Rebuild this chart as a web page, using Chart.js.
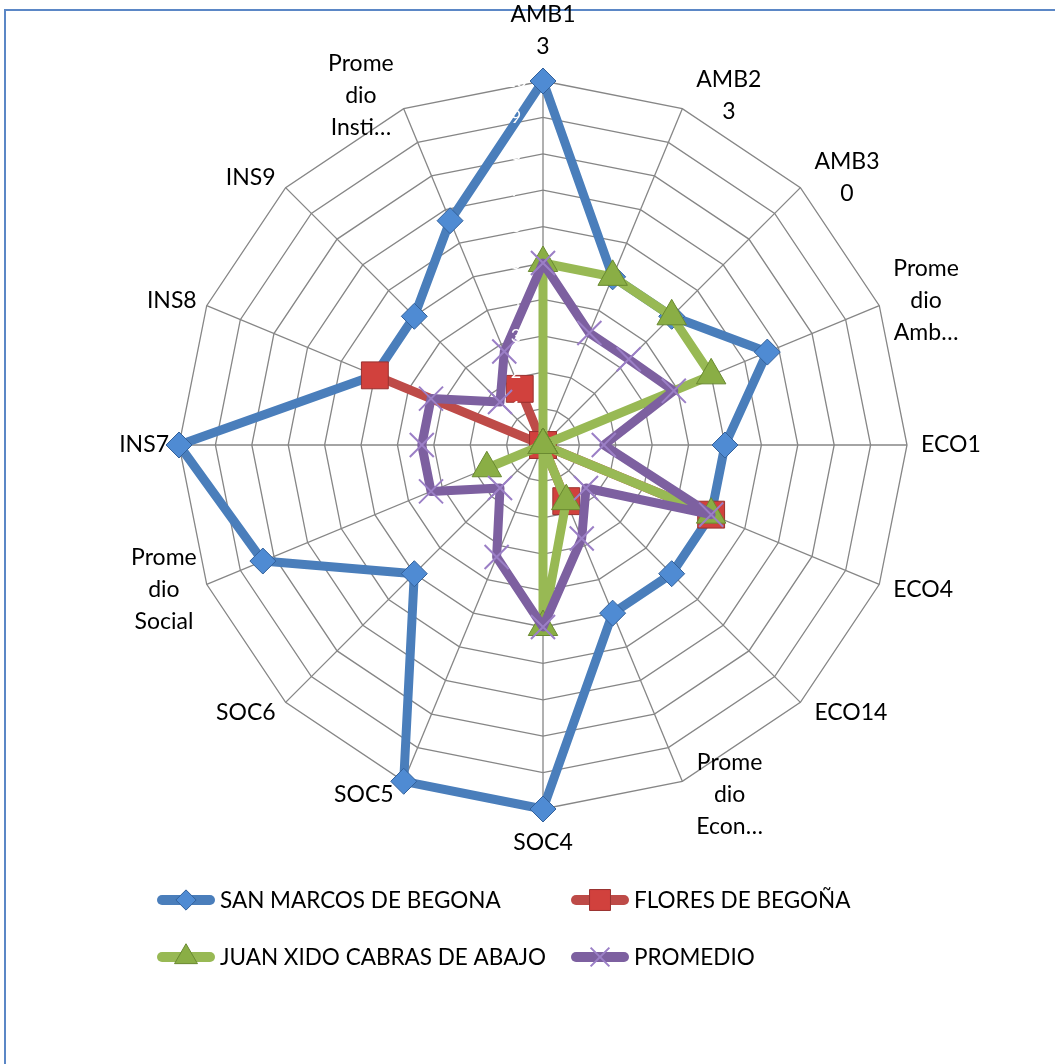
<!DOCTYPE html>
<html>
<head>
<meta charset="utf-8">
<script src="https://cdn.jsdelivr.net/npm/chart.js@4.4.1/dist/chart.umd.min.js"></script>
<style>
    html, body { margin: 0; padding: 0; background: #fff; }
    #wrap { position: relative; width: 1055px; height: 1064px; overflow: hidden; }
    #frame { position: absolute; left: 4px; top: 9px; right: -4px; bottom: -4px;
             border-top: 2px solid #5b87c6; border-left: 2px solid #5b87c6; }
    canvas { position: absolute; left: 0; top: 0; }
</style>
</head>
<body>
<div id="wrap">
    <div id="frame"></div>
    <canvas id="myCanvas" width="1055" height="1064"></canvas>
</div>
<script>
// categories (wrapped the way the original labels are)
var categories = [
    ["AMB1", "3"], ["AMB2", "3"], ["AMB3", "0"], ["Prome", "dio", "Amb…"],
    ["ECO1"], ["ECO4"], ["ECO14"], ["Prome", "dio", "Econ…"],
    ["SOC4"], ["SOC5"], ["SOC6"], ["Prome", "dio", "Social"],
    ["INS7"], ["INS8"], ["INS9"], ["Prome", "dio", "Insti…"]
];
var series_names = ["SAN MARCOS DE BEGONA", "FLORES DE BEGOÑA", "JUAN XIDO CABRAS DE ABAJO", "PROMEDIO"];

var san_marcos = [10, 5, 5, 6.67, 5, 5, 5, 5, 10, 10, 5, 8.33, 10, 5, 5, 6.67];
var flores     = [0, 0, 0, 0, 0, 5, 0, 1.67, 0, 0, 0, 0, 0, 5, 0, 1.67];
var juan_xido  = [5, 5, 5, 5, 0, 5, 0, 1.67, 5, 0, 0, 1.67, 0, 0, 0, 0];
var promedio   = [5, 3.33, 3.33, 3.89, 1.67, 5, 1.67, 2.78, 5, 3.33, 1.67, 3.33, 3.33, 3.33, 1.67, 2.78];

var scale_min = 0;
var scale_max = 10;
var scale_step = 1;

var chartColors = {
    blue: '#4a7ebb',
    red: '#be4b48',
    green: '#98b954',
    purple: '#7d60a0'
};

var labelFont = '23px Lato';

// draws the category names around the web, Excel style
var categoryLabels = {
    id: 'categoryLabels',
    afterDatasetsDraw: function (chart) {
        var scale = chart.scales.r;
        var ctx = chart.ctx;
        var lineH = 32;
        ctx.save();
        ctx.font = labelFont;
        ctx.fillStyle = '#000';
        ctx.textAlign = 'center';
        ctx.textBaseline = 'middle';
        for (var i = 0; i < categories.length; i++) {
            var lines = categories[i];
            var p = scale.getPointPosition(i, scale.drawingArea);
            var ang = scale.getIndexAngle(i);
            var s = Math.sin(ang), c = Math.cos(ang);
            var w = 0;
            lines.forEach(function (t) { w = Math.max(w, ctx.measureText(t).width); });
            var h = lines.length * lineH;
            var cx, cy;
            if (Math.abs(s) < 0.01) {
                cx = p.x;
                cy = p.y - c * (h / 2 + 18);
            } else {
                cx = p.x + Math.sign(s) * (w / 2 + (s > 0 ? 14 : 10));
                cy = p.y - c * 14;
            }
            lines.forEach(function (t, k) {
                ctx.fillText(t, cx, cy - h / 2 + lineH * (k + 0.5));
            });
        }
        ctx.restore();
    }
};

// two column legend with a line + marker sample
var sampleLegend = {
    id: 'sampleLegend',
    afterDraw: function (chart) {
        var ctx = chart.ctx;
        var cols = [158, 572];
        var rows = [900, 957];
        ctx.save();
        ctx.font = '22.5px Lato';
        ctx.textBaseline = 'middle';
        ctx.textAlign = 'left';
        chart.data.datasets.forEach(function (ds, i) {
            var x = cols[i % 2];
            var y = rows[Math.floor(i / 2)];
            ctx.strokeStyle = ds.borderColor;
            ctx.lineWidth = 10;
            ctx.lineCap = 'round';
            ctx.beginPath();
            ctx.moveTo(x + 4, y);
            ctx.lineTo(x + 52, y);
            ctx.stroke();
            ctx.fillStyle = ds.pointBackgroundColor;
            ctx.strokeStyle = ds.pointBorderColor;
            ctx.lineWidth = ds.pointBorderWidth;
            ctx.lineCap = 'butt';
            Chart.helpers.drawPoint(ctx, {
                pointStyle: ds.pointStyle,
                radius: ds.pointRadius * 0.78,
                rotation: 0,
                borderWidth: ds.pointBorderWidth
            }, x + 28, y);
            ctx.fillStyle = '#000';
            ctx.fillText(ds.label, x + 62, y + 1);
        });
        ctx.restore();
    }
};

var graph_data = [
    {
        label: series_names[0],
        data: san_marcos,
        borderColor: chartColors.blue,
        borderWidth: 9,
        borderJoinStyle: 'round',
        fill: false,
        pointStyle: 'rectRot',
        pointRadius: 13,
        pointBackgroundColor: '#4f8bd3',
        pointBorderColor: '#33619b',
        pointBorderWidth: 1,
        order: 4
    },
    {
        label: series_names[1],
        data: flores,
        borderColor: chartColors.red,
        borderWidth: 9,
        borderJoinStyle: 'round',
        fill: false,
        pointStyle: 'rect',
        pointRadius: 19,
        pointBackgroundColor: '#d1413d',
        pointBorderColor: '#993230',
        pointBorderWidth: 1,
        order: 3
    },
    {
        label: series_names[2],
        data: juan_xido,
        borderColor: chartColors.green,
        borderWidth: 9,
        borderJoinStyle: 'round',
        fill: false,
        pointStyle: 'triangle',
        pointRadius: 17,
        pointBackgroundColor: '#8aae45',
        pointBorderColor: '#6a8a31',
        pointBorderWidth: 1,
        order: 2
    },
    {
        label: series_names[3],
        data: promedio,
        borderColor: chartColors.purple,
        borderWidth: 9,
        borderJoinStyle: 'round',
        fill: false,
        pointStyle: 'crossRot',
        pointRadius: 17,
        pointBackgroundColor: '#9b7fc6',
        pointBorderColor: '#9b7fc6',
        pointBorderWidth: 2,
        order: 1
    }
];

var myChart = new Chart(document.getElementById('myCanvas'), {
    type: 'radar',
    data: {
        labels: categories,
        datasets: graph_data
    },
    options: {
        responsive: false,
        animation: false,
        layout: {
            padding: { left: 168, right: 137, top: 70, bottom: 244 }
        },
        plugins: {
            legend: { display: false },
            tooltip: { enabled: false }
        },
        scales: {
            r: {
                min: scale_min,
                max: scale_max,
                grid: { color: '#868686', lineWidth: 1.3 },
                angleLines: { color: '#868686', lineWidth: 1.3 },
                pointLabels: { display: false },
                ticks: {
                    stepSize: scale_step,
                    z: 1,
                    color: '#ffffff',
                    showLabelBackdrop: false,
                    font: { family: 'Lato', size: 18 },
                    callback: function (v) { return v + '\u2003\u2003\u2003\u2003'; }
                }
            }
        }
    },
    plugins: [categoryLabels, sampleLegend]
});
</script>
</body>
</html>
